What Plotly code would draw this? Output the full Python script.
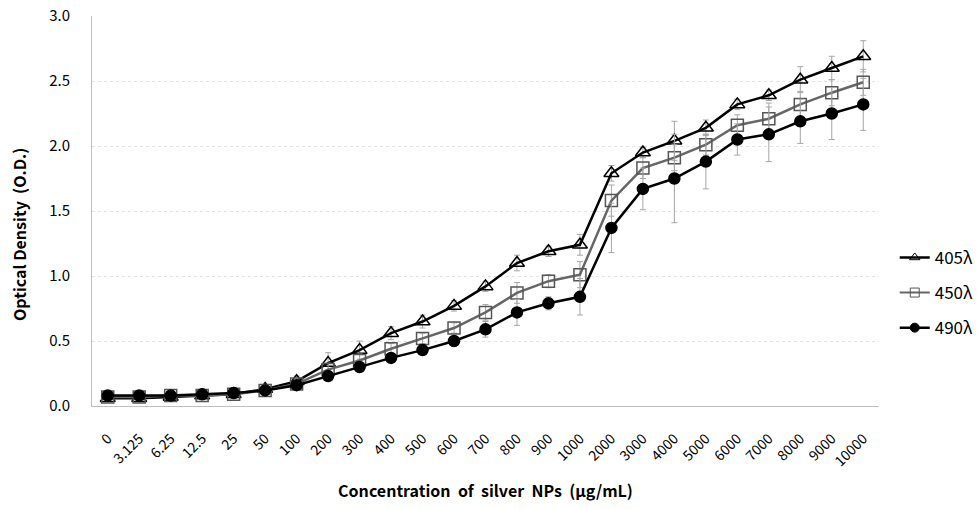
import plotly.graph_objects as go

categories = ["0", "3.125", "6.25", "12.5", "25", "50", "100", "200", "300", "400", "500",
              "600", "700", "800", "900", "1000", "2000", "3000", "4000", "5000", "6000",
              "7000", "8000", "9000", "10000"]

od_405 = [0.06, 0.06, 0.07, 0.08, 0.09, 0.13, 0.19, 0.33, 0.43, 0.56, 0.65, 0.77, 0.92,
          1.10, 1.19, 1.24, 1.79, 1.95, 2.04, 2.14, 2.32, 2.39, 2.51, 2.60, 2.69]
err_405 = [0.01, 0.01, 0.01, 0.01, 0.01, 0.02, 0.04, 0.08, 0.07, 0.05, 0.05, 0.04, 0.04,
           0.06, 0.04, 0.08, 0.06, 0.04, 0.15, 0.06, 0.04, 0.04, 0.10, 0.09, 0.12]

od_450 = [0.07, 0.07, 0.08, 0.08, 0.09, 0.12, 0.17, 0.28, 0.35, 0.44, 0.52, 0.60, 0.72,
          0.87, 0.96, 1.01, 1.58, 1.83, 1.91, 2.01, 2.16, 2.21, 2.32, 2.41, 2.49]
err_450 = [0.01, 0.01, 0.01, 0.01, 0.01, 0.02, 0.03, 0.05, 0.05, 0.04, 0.04, 0.04, 0.06,
           0.08, 0.05, 0.10, 0.12, 0.08, 0.10, 0.08, 0.08, 0.12, 0.10, 0.10, 0.10]

od_490 = [0.08, 0.08, 0.08, 0.09, 0.10, 0.12, 0.16, 0.23, 0.30, 0.37, 0.43, 0.50, 0.59,
          0.72, 0.79, 0.84, 1.37, 1.67, 1.75, 1.88, 2.05, 2.09, 2.19, 2.25, 2.32]
err_490 = [0.01, 0.01, 0.01, 0.01, 0.01, 0.02, 0.03, 0.03, 0.03, 0.03, 0.03, 0.03, 0.06,
           0.10, 0.05, 0.14, 0.19, 0.16, 0.34, 0.21, 0.12, 0.21, 0.17, 0.20, 0.20]

series_names = ["405λ", "450λ", "490λ"]

FONT = "Noto Sans CJK KR, Malgun Gothic, sans-serif"

fig = go.Figure()

styles = [
    dict(color="#000000", symbol="triangle-up-open", size=13, lsize=9, mcolor="#000000", lw=2.5),
    dict(color="#666666", symbol="square-open", size=12, lsize=9, mcolor="#555555", lw=2.5),
    dict(color="#000000", symbol="circle", size=11, lsize=9, mcolor="#000000", lw=2.5),
]

for name, vals, errs, st in zip(series_names, [od_405, od_450, od_490],
                                [err_405, err_450, err_490], styles):
    fig.add_trace(go.Scatter(
        x=categories, y=vals, name=name, mode="lines+markers", showlegend=False,
        line=dict(color=st["color"], width=st["lw"]),
        marker=dict(symbol=st["symbol"], size=st["size"], color=st["mcolor"],
                    line=dict(color=st["mcolor"], width=1.5)),
        error_y=dict(type="data", array=errs, visible=True, color="#a6a6a6",
                     thickness=1, width=3),
    ))

# legend-only entries with smaller symbols, as in the reference legend
for name, st in zip(series_names, styles):
    fig.add_trace(go.Scatter(
        x=[None], y=[None], name=name, mode="lines+markers", legendgroup=name,
        line=dict(color=st["color"], width=2 if st["color"] == "#666666" else st["lw"]),
        marker=dict(symbol=st["symbol"], size=st["lsize"], color=st["mcolor"],
                    line=dict(color=st["mcolor"], width=1)),
    ))

fig.update_layout(
    width=977, height=509,
    margin=dict(l=92, r=98, t=16, b=103, autoexpand=False),
    plot_bgcolor="white", paper_bgcolor="white",
    font=dict(family=FONT, size=15, color="#000000"),
    legend=dict(x=1.02, y=0.29, xanchor="left", yanchor="middle",
                font=dict(size=17, family=FONT), tracegroupgap=10,
                itemwidth=30),
    xaxis=dict(
        type="category", range=[-0.5, len(categories) - 0.5],
        tickangle=-45, tickfont=dict(size=14, family=FONT),
        showline=True, linecolor="#bfbfbf", linewidth=1, showgrid=False,
        ticks="", ticklabelstandoff=18, automargin=False,
        title=dict(text="<b>Concentration  of  silver  NPs  (μg/mL)</b>",
                   font=dict(size=16, family=FONT), standoff=16),
    ),
    yaxis=dict(
        range=[0, 3], dtick=0.5, tickformat=".1f", tickfont=dict(size=15, family=FONT),
        showline=True, linecolor="#bfbfbf", linewidth=1, automargin=False,
        showgrid=True, gridcolor="#e3e3e3", griddash="dot", zeroline=False,
        ticks="", ticklabelstandoff=18,
    ),
    annotations=[dict(
        text="<b>Optical Density  (O.D.)</b>", textangle=-90,
        xref="paper", yref="paper", x=-0.092, y=0.44,
        xanchor="center", yanchor="middle", showarrow=False,
        font=dict(size=16, family=FONT, color="#000000"),
    )],
)

fig.write_html("out.html")
